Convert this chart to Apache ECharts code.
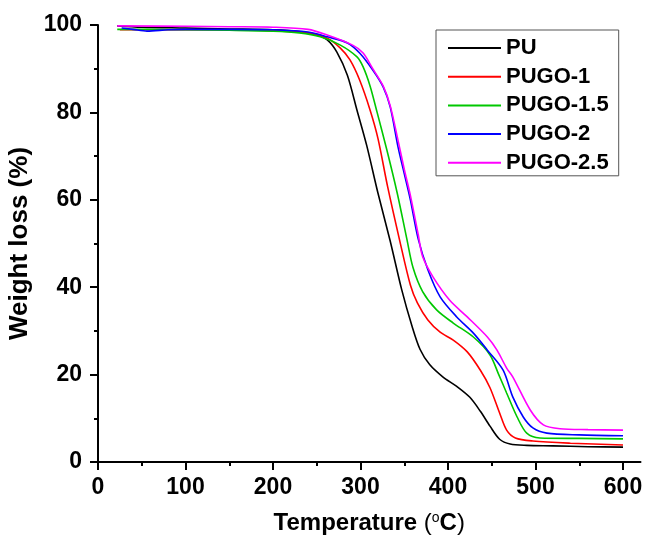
<!DOCTYPE html>
<html>
<head>
<meta charset="utf-8">
<script src="https://cdn.jsdelivr.net/npm/echarts@6/dist/echarts.min.js"></script>
<style>
html,body{margin:0;padding:0;background:#fff;}
#chart{width:646px;height:537px;}
</style>
</head>
<body>
<div id="chart"></div>
<script>
// Series names
const seriesNames = ['PU', 'PUGO-1', 'PUGO-1.5', 'PUGO-2', 'PUGO-2.5'];
const seriesColors = ['#000000', '#ff0000', '#00c800', '#0000ff', '#ff00ff'];

// PU
const puT = [22, 50, 100, 150, 200, 230, 250, 262, 273, 285, 296, 307, 320, 334, 347, 359, 368, 379, 394, 410, 425, 437, 448, 459, 471, 490, 520, 560, 600];
const puW = [99.8, 99.5, 99.3, 99.1, 98.9, 98.5, 97.7, 96.6, 93.8, 88.5, 80.5, 72.5, 61.5, 50.5, 39.5, 31, 25.8, 22.3, 19.5, 17.3, 14.8, 11.6, 8.2, 5.2, 4.1, 3.8, 3.7, 3.5, 3.4];

// PUGO-1
const p1T = [25, 50, 100, 150, 200, 240, 262, 277, 288, 299, 311, 320, 331, 345, 357, 365, 377, 391, 406, 422, 437, 448, 459, 467, 477, 497, 540, 600];
const p1W = [98.9, 98.9, 98.9, 98.9, 98.7, 98.2, 97, 94.7, 92, 87.4, 80.5, 74, 63, 50.5, 40.5, 36.4, 32.5, 29.7, 27.9, 25.2, 21, 17, 11.2, 7.3, 5.5, 4.8, 4.3, 3.9];

// PUGO-1.5
const p15T = [22, 50, 100, 150, 200, 230, 254, 277, 296, 303, 311, 319, 330, 342, 353, 360, 371, 387, 406, 429, 448, 458, 467, 479, 490, 505, 550, 600];
const p15W = [99, 99, 98.9, 98.8, 98.6, 98.2, 97.3, 95.4, 92.7, 90.4, 86, 80, 71.5, 61.5, 51, 44.5, 39, 34.8, 31.8, 28.6, 24.5, 20, 15.8, 10.3, 6.6, 5.5, 5.4, 5.3];

// PUGO-2
const p2T = [27, 40, 56, 80, 100, 150, 200, 240, 262, 285, 299, 314, 326, 334, 343, 350, 357, 366, 377, 391, 410, 429, 445, 463, 474, 486, 497, 513, 550, 600];
const p2W = [99.3, 99.0, 98.6, 98.9, 99.0, 99.0, 98.9, 98.4, 97.3, 95.9, 93.6, 89.7, 85.8, 81.2, 72, 66, 60, 51, 44, 37.8, 33.2, 29.5, 25.6, 21, 14.9, 10.3, 7.8, 6.6, 6.2, 6.0];

// PUGO-2.5
const p25T = [22, 100, 150, 200, 240, 262, 291, 303, 314, 326, 334, 343, 350, 357, 366, 371, 383, 402, 422, 445, 456, 467, 474, 494, 509, 528, 560, 600];
const p25W = [99.8, 99.7, 99.6, 99.5, 99.0, 97.7, 95.4, 93.6, 90, 86, 81.5, 73.5, 67, 61, 52, 47, 42.3, 37, 33.2, 28.6, 25.6, 21.5, 19.5, 11.9, 8.5, 7.6, 7.4, 7.3];

// Tick labels
const xLabelValues = [0, 100, 200, 300, 400, 500, 600];
const xMinorValues = [50, 150, 250, 350, 450, 550];

const allT = [puT, p1T, p15T, p2T, p25T];
const allW = [puW, p1W, p15W, p2W, p25W];

const FONT = '"Liberation Sans", Arial, Helvetica, sans-serif';

const chart = echarts.init(document.getElementById('chart'), null, {renderer: 'canvas'});

const series = seriesNames.map((name, i) => ({
  name: name,
  type: 'line',
  xAxisIndex: 0,
  yAxisIndex: 0,
  data: allT[i].map((t, j) => [t, allW[i][j]]),
  showSymbol: false,
  symbol: 'none',
  smooth: 0.3,
  lineStyle: {color: seriesColors[i], width: 1.6},
  itemStyle: {color: seriesColors[i]},
  z: 2 + i
}));

const option = {
  backgroundColor: '#ffffff',
  animation: false,
  grid: {left: 98, right: 5.5, top: 25, bottom: 75, containLabel: false, outerBoundsMode: 'none'},
  legend: {
    orient: 'vertical',
    left: 436,
    top: 30,
    padding: [7, 10, 2, 12],
    borderColor: '#555',
    borderWidth: 1,
    icon: 'rect',
    itemWidth: 53,
    itemHeight: 2,
    itemGap: 6.7,
    data: seriesNames,
    textStyle: {fontFamily: FONT, fontWeight: 'bold', fontSize: 22, color: '#000', lineHeight: 22}
  },
  xAxis: [{
    type: 'value',
    min: 0,
    max: 620,
    interval: 100,
    name: '{b|Temperature }{p|(}{s|o}{b|C}{p|)}',
    nameLocation: 'middle',
    nameGap: 49,
    nameTextStyle: {
      rich: {
        b: {fontFamily: FONT, fontWeight: 'bold', fontSize: 24, color: '#000'},
        p: {fontFamily: FONT, fontWeight: 'normal', fontSize: 24, color: '#000'},
        s: {fontFamily: FONT, fontWeight: 'normal', fontSize: 14, color: '#000', verticalAlign: 'top', padding: [0, 0, 8, 0]}
      }
    },
    axisLine: {show: true, onZero: false, lineStyle: {color: '#000', width: 2}},
    axisTick: {show: true, inside: false, length: 8, lineStyle: {color: '#000', width: 2}, customValues: xLabelValues},
    axisLabel: {show: true, margin: 14, fontFamily: FONT, fontWeight: 'bold', fontSize: 23, color: '#000', customValues: xLabelValues},
    splitLine: {show: false}
  }, {
    type: 'value',
    position: 'bottom',
    min: 0,
    max: 620,
    interval: 100,
    axisLine: {show: false},
    axisTick: {show: true, inside: false, length: 4, lineStyle: {color: '#000', width: 2}, customValues: xMinorValues},
    axisLabel: {show: false},
    splitLine: {show: false}
  }],
  yAxis: {
    type: 'value',
    min: 0,
    max: 100,
    interval: 20,
    name: 'Weight loss (%)',
    nameLocation: 'middle',
    nameGap: 60,
    nameTextStyle: {fontFamily: FONT, fontWeight: 'bold', fontSize: 26, color: '#000'},
    axisLine: {show: true, onZero: false, lineStyle: {color: '#000', width: 2}},
    axisTick: {show: true, inside: false, length: 8, lineStyle: {color: '#000', width: 2}},
    minorTick: {show: true, splitNumber: 2, length: 4, lineStyle: {color: '#000', width: 2}},
    axisLabel: {show: true, margin: 16, fontFamily: FONT, fontWeight: 'bold', fontSize: 23, color: '#000'},
    splitLine: {show: false}
  },
  series: series
};

chart.setOption(option);
</script>
</body>
</html>
